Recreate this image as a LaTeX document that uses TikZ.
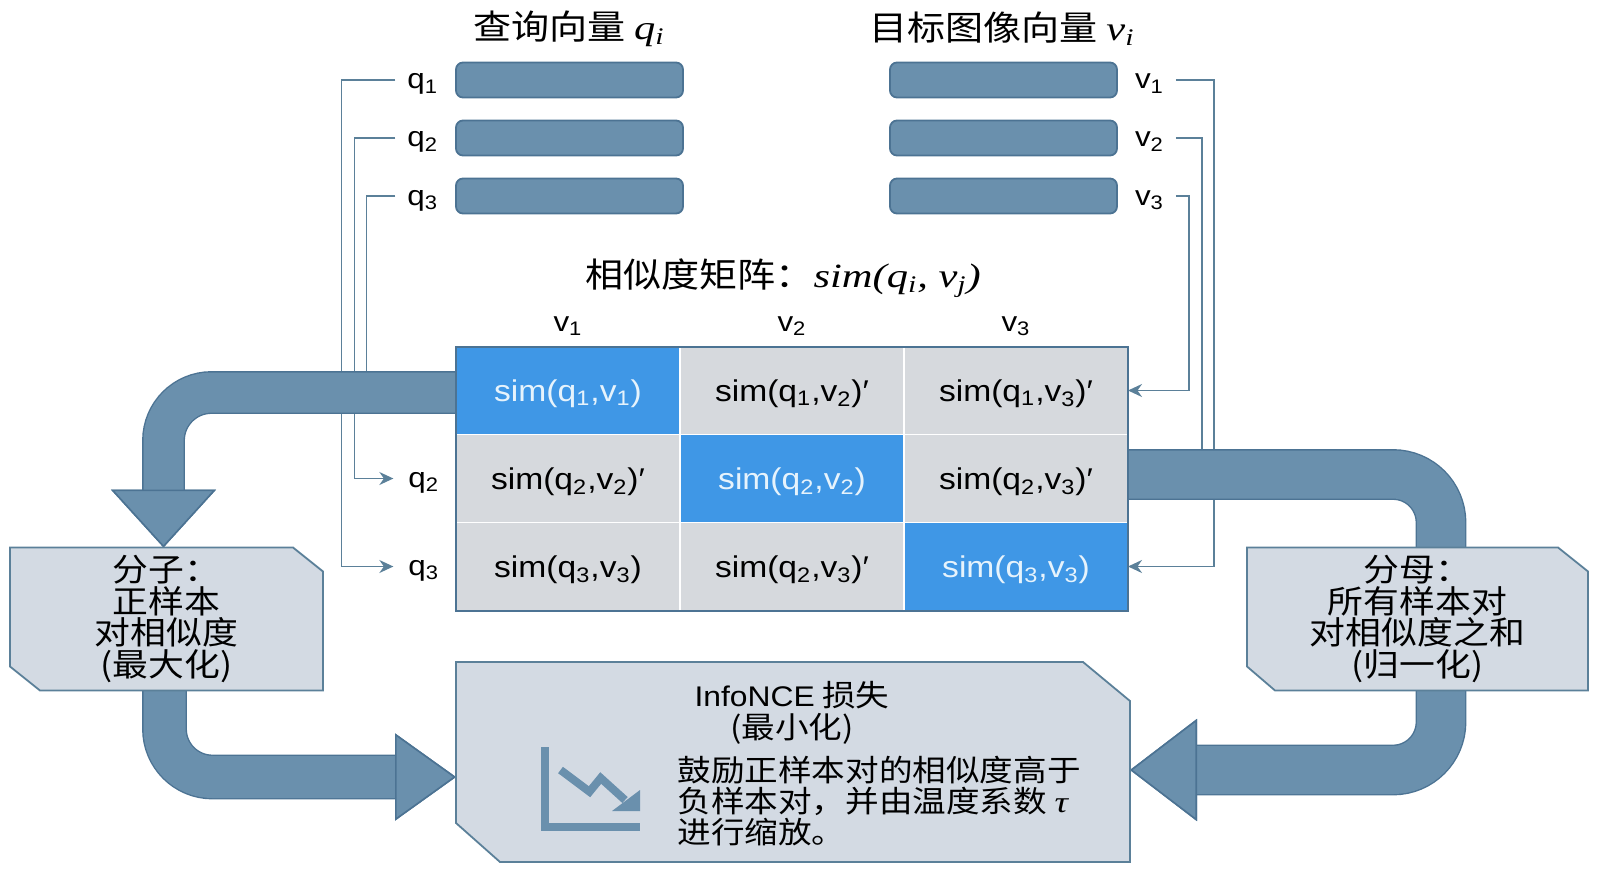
\documentclass[tikz,border=0pt]{standalone}
\usepackage{fontspec}
\setmainfont{Liberation Sans}[FakeStretch=1.12]
\newfontfamily\cjk{Noto Sans CJK SC}[FakeStretch=1.12]
\newfontfamily\varfont{Liberation Serif}[FakeStretch=1.25]
\usetikzlibrary{positioning,arrows.meta,backgrounds}
\definecolor{steelfill}{HTML}{6A90AD}
\definecolor{steeledge}{HTML}{4C7393}
\definecolor{wirecol}{HTML}{5B8099}
\definecolor{boxfill}{HTML}{D3DAE3}
\definecolor{cellfill}{HTML}{D6D9DD}
\definecolor{hotfill}{HTML}{3F97E6}
\definecolor{hottext}{HTML}{E6F3FC}
\newcommand{\mv}[1]{{\varfont\itshape #1}}
\newcommand{\tightlines}{\lineskiplimit=-20pt\relax}
\newcommand{\notebox}[5]{\draw[noteframe] (#1.north west) -- ([xshift=-#2]#1.north east) -- ([yshift=-#3]#1.north east) -- (#1.south east) -- ([xshift=#4]#1.south west) -- ([yshift=#5]#1.south west) -- cycle;}

\begin{document}
\begin{tikzpicture}[x=.5pt,y=-.5pt,node distance=11.5pt,
  head/.style={inner sep=0pt,font=\cjk\fontsize{17}{20}\selectfont},
  vecbar/.style={draw=steeledge,fill=steelfill,line width=.9pt,rounded corners=3.5pt,minimum width=113.5pt,minimum height=17.5pt,inner sep=0pt,outer sep=0pt},
  lab/.style={inner xsep=6pt,inner ysep=0pt,outer sep=0pt,text height=12pt,text depth=3pt,font=\fontsize{14}{18}\selectfont},
  cell/.style={draw=white,line width=.8pt,fill=cellfill,minimum width=112pt,minimum height=44pt,inner sep=0pt,outer sep=0pt,text height=14pt,text depth=3.2pt,font=\fontsize{15}{18}\selectfont},
  hot/.style={cell,fill=hotfill,text=hottext},
  note/.style={inner sep=0pt,outer sep=0pt,align=center,font=\cjk\fontsize{16}{15.7}\selectfont\tightlines},
  noteframe/.style={draw=wirecol,fill=boxfill,line width=.9pt},
  losstext/.style={inner sep=0pt,font=\cjk\fontsize{15}{15.7}\selectfont\tightlines},
  wire/.style={draw=wirecol,line width=.8pt,-{Stealth[length=7pt,width=6.5pt]}},
  rail/.style={draw=wirecol,line width=.8pt},
  flow/.style n args={3}{draw=steelfill,line width=#1,rounded corners=24pt,-{Triangle[length=#2,width=#3,color=steeledge,fill=steelfill,line width=.8pt]},preaction={draw=steeledge,line width=#1+1.4pt}}]
  \useasboundingbox (0,0) rectangle (1600,872);

  % vectors
  \node[head] (qtitle) at (569,29) {查询向量 \mv{q\textsubscript{i}}};
  \node[head] (vtitle) at (1002,29) {目标图像向量 \mv{v\textsubscript{i}}};
  \node[vecbar] (qbar1) at (569.5,80) {};
  \node[vecbar,below=of qbar1] (qbar2) {};
  \node[vecbar,below=of qbar2] (qbar3) {};
  \node[vecbar] (vbar1) at (1003.5,80) {};
  \node[vecbar,below=of vbar1] (vbar2) {};
  \node[vecbar,below=of vbar2] (vbar3) {};
  \node[lab,left=3pt of qbar1] (q1) {q\textsubscript{1}};
  \node[lab,left=3pt of qbar2] (q2) {q\textsubscript{2}};
  \node[lab,left=3pt of qbar3] (q3) {q\textsubscript{3}};
  \node[lab,right=3pt of vbar1] (v1) {v\textsubscript{1}};
  \node[lab,right=3pt of vbar2] (v2) {v\textsubscript{2}};
  \node[lab,right=3pt of vbar3] (v3) {v\textsubscript{3}};

  % matrix
  \node[head] (mtitle) at (783,278) {相似度矩阵：\mv{sim(q\textsubscript{i}, v\textsubscript{j})}};
  \node[hot] (c11) at (568,390.5) {sim(q\textsubscript{1},v\textsubscript{1})};
  \node[cell,right=0pt of c11] (c12) {sim(q\textsubscript{1},v\textsubscript{2})′};
  \node[cell,right=0pt of c12] (c13) {sim(q\textsubscript{1},v\textsubscript{3})′};
  \node[cell,below=0pt of c11] (c21) {sim(q\textsubscript{2},v\textsubscript{2})′};
  \node[hot,right=0pt of c21] (c22) {sim(q\textsubscript{2},v\textsubscript{2})};
  \node[cell,right=0pt of c22] (c23) {sim(q\textsubscript{2},v\textsubscript{3})′};
  \node[cell,below=0pt of c21] (c31) {sim(q\textsubscript{3},v\textsubscript{3})};
  \node[cell,right=0pt of c31] (c32) {sim(q\textsubscript{2},v\textsubscript{3})′};
  \node[hot,right=0pt of c32] (c33) {sim(q\textsubscript{3},v\textsubscript{3})};
  \draw[steeledge,line width=1pt] (c11.north west) rectangle (c33.south east);
  \node[lab,above=4.5pt of c11] (col1) {v\textsubscript{1}};
  \node[lab,above=4.5pt of c12] (col2) {v\textsubscript{2}};
  \node[lab,above=4.5pt of c13] (col3) {v\textsubscript{3}};
  \node[lab,left=2.5pt of c21] (qin2) {q\textsubscript{2}};
  \node[lab,left=2.5pt of c31] (qin3) {q\textsubscript{3}};

  % boxes
  \node[note,minimum width=156.5pt,minimum height=71.5pt] (numer) at (166.5,619) {分子：\\正样本\\对相似度\\(最大化)};
  \node[note,minimum width=170.5pt,minimum height=71.5pt] (denom) at (1417.5,619) {分母：\\所有样本对\\对相似度之和\\(归一化)};
  \node[note,minimum width=337pt,minimum height=100pt] (loss) at (793,762) {};
  \node[losstext,align=center] (losstitle) at (792,713) {{\fontspec{Liberation Sans}[FakeStretch=1.12]\fontsize{14.2}{15.7}\selectfont InfoNCE} 损失\\(最小化)};
  \node[losstext,align=left,anchor=west] (lossbody) at (677,801) {鼓励正样本对的相似度高于\\负样本对，并由温度系数 \mv{τ}\\进行缩放。};
  \coordinate (rturn) at (1441,770);

  % icon
  \draw[steelfill,line width=4pt] (545,747) -- (545,827) -- (640,827);
  \draw[steelfill,line width=4pt] (560.5,770) -- (589.5,791.7) -- (600.7,778) -- (625,800);
  \fill[steelfill] (640,790) -- (640,811) -- (612,811) -- cycle;

  \begin{scope}[on background layer]
    \draw[wire,shorten >=1.5pt] (q1.west) -- ++(-54,0) |- (qin3.west);
    \draw[wire,shorten >=1.5pt] (q2.west) -- ++(-41,0) |- (qin2.west);
    \draw[rail] (q3.west) -- ++(-29,0) -- ++(0,190);
    \draw[wire] (v1.east) -- ++(38,0) |- (c33.east);
    \draw[rail] (v2.east) -- ++(26,0) -- ++(0,320);
    \draw[wire] (v3.east) -- ++(13,0) |- (c13.east);
    \draw[flow={20pt}{29pt}{52.5pt}] ([yshift=-1pt]c11.west) -| ([xshift=-1.5pt]numer.north);
    \draw[flow={24pt}{33.5pt}{51pt}] ([yshift=2pt]c23.east) -| (rturn) -- ([yshift=-4pt]loss.east);
    \draw[flow={21pt}{30.5pt}{43.5pt}] ([xshift=-1pt]numer.south) |- ([yshift=-7.5pt]loss.west);
    \notebox{numer}{15pt}{12pt}{15pt}{12pt}
    \notebox{denom}{15pt}{12pt}{14pt}{12pt}
    \notebox{loss}{23.5pt}{19.5pt}{22pt}{19.5pt}
  \end{scope}
\end{tikzpicture}
\end{document}
